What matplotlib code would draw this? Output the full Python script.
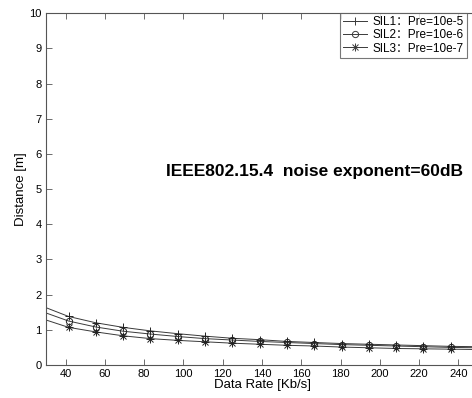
import matplotlib
matplotlib.use("Agg")
import matplotlib.pyplot as plt

# Data
rate = [30, 41.5, 55.4, 69.3, 83.2, 97.1, 111.0, 124.9, 138.8, 152.7, 166.6, 180.5, 194.4, 208.3, 222.2, 236.1, 250]
sil1 = [1.63, 1.38, 1.20, 1.07, 0.97, 0.89, 0.82, 0.76, 0.72, 0.67, 0.64, 0.61, 0.59, 0.57, 0.55, 0.53, 0.52]
sil2 = [1.48, 1.25, 1.08, 0.96, 0.88, 0.81, 0.75, 0.71, 0.67, 0.64, 0.61, 0.58, 0.56, 0.54, 0.52, 0.50, 0.49]
sil3 = [1.28, 1.07, 0.94, 0.83, 0.75, 0.70, 0.66, 0.62, 0.59, 0.56, 0.54, 0.51, 0.49, 0.47, 0.46, 0.45, 0.44]
labels = ["SIL1：Pre=10e-5", "SIL2：Pre=10e-6", "SIL3：Pre=10e-7"]
xticks = [40, 60, 80, 100, 120, 140, 160, 180, 200, 220, 240]
yticks = list(range(0, 11))

fam = ["Liberation Sans", "Noto Sans CJK SC", "DejaVu Sans"]
plt.rcParams["font.family"] = fam

W, H = 472, 398
fig = plt.figure(figsize=(W / 100, H / 100), dpi=100)
left, right, top, bottom = 46, 478, 13.3, 365
ax = fig.add_axes([left / W, 1 - bottom / H, (right - left) / W, (bottom - top) / H])

lc = "#3a3a3a"
kw = dict(linestyle="none", color="#222222", markerfacecolor="none", markeredgewidth=0.7)

# SIL1 '+'
ax.plot(rate, sil1, color=lc, lw=0.7)
ax.plot(rate[1:-1], sil1[1:-1], marker="+", markersize=6, **kw)
# SIL2 'o'
ax.plot(rate, sil2, color=lc, lw=0.7)
ax.plot(rate[1:-1], sil2[1:-1], marker="o", markersize=4.5, **kw)
# SIL3 '*' (MATLAB-style asterisk = + and x)
ax.plot(rate, sil3, color=lc, lw=0.7)
ax.plot(rate[1:-1], sil3[1:-1], marker="+", markersize=5.5, **kw)
ax.plot(rate[1:-1], sil3[1:-1], marker="x", markersize=4, **kw)

h1, = ax.plot([], [], color=lc, lw=0.7, marker="+", markersize=6, markeredgewidth=0.7)
h2, = ax.plot([], [], color=lc, lw=0.7, marker="o", markersize=4.5, markerfacecolor="none", markeredgewidth=0.7)
h3a, = ax.plot([], [], color=lc, lw=0.7, marker="+", markersize=5.5, markeredgewidth=0.7)
h3b, = ax.plot([], [], linestyle="none", color=lc, marker="x", markersize=4, markeredgewidth=0.7)

ax.set_xlim(30, 250)
ax.set_ylim(0, 10)
ax.set_xticks(xticks)
ax.set_yticks(yticks)
ax.tick_params(direction="in", top=True, right=True, labelsize=8, length=4, width=0.6,
               color="#555555", pad=3)
for s in ax.spines.values():
    s.set_color("#555555")
    s.set_linewidth(0.8)

ax.set_xlabel("Data Rate [Kb/s]", fontsize=9.5, labelpad=0)
ax.set_ylabel("Distance [m]", fontsize=9.5, labelpad=2)

ax.text(166.5, 5.5, "IEEE802.15.4  noise exponent=60dB", fontsize=12.5, fontweight="bold",
        ha="center", va="center")

leg = ax.legend([h1, h2, (h3a, h3b)], labels, loc="upper left",
                bbox_to_anchor=(340 / W, 1 - 13.3 / H), bbox_transform=fig.transFigure,
                frameon=True, fancybox=False, borderaxespad=0, handlelength=2.0, handletextpad=0.5,
                labelspacing=0.1, borderpad=0.25, prop={"family": fam, "size": 8.5})
leg.get_frame().set_edgecolor("#555555")
leg.get_frame().set_linewidth(0.8)

fig.savefig("out.png", dpi=100)
